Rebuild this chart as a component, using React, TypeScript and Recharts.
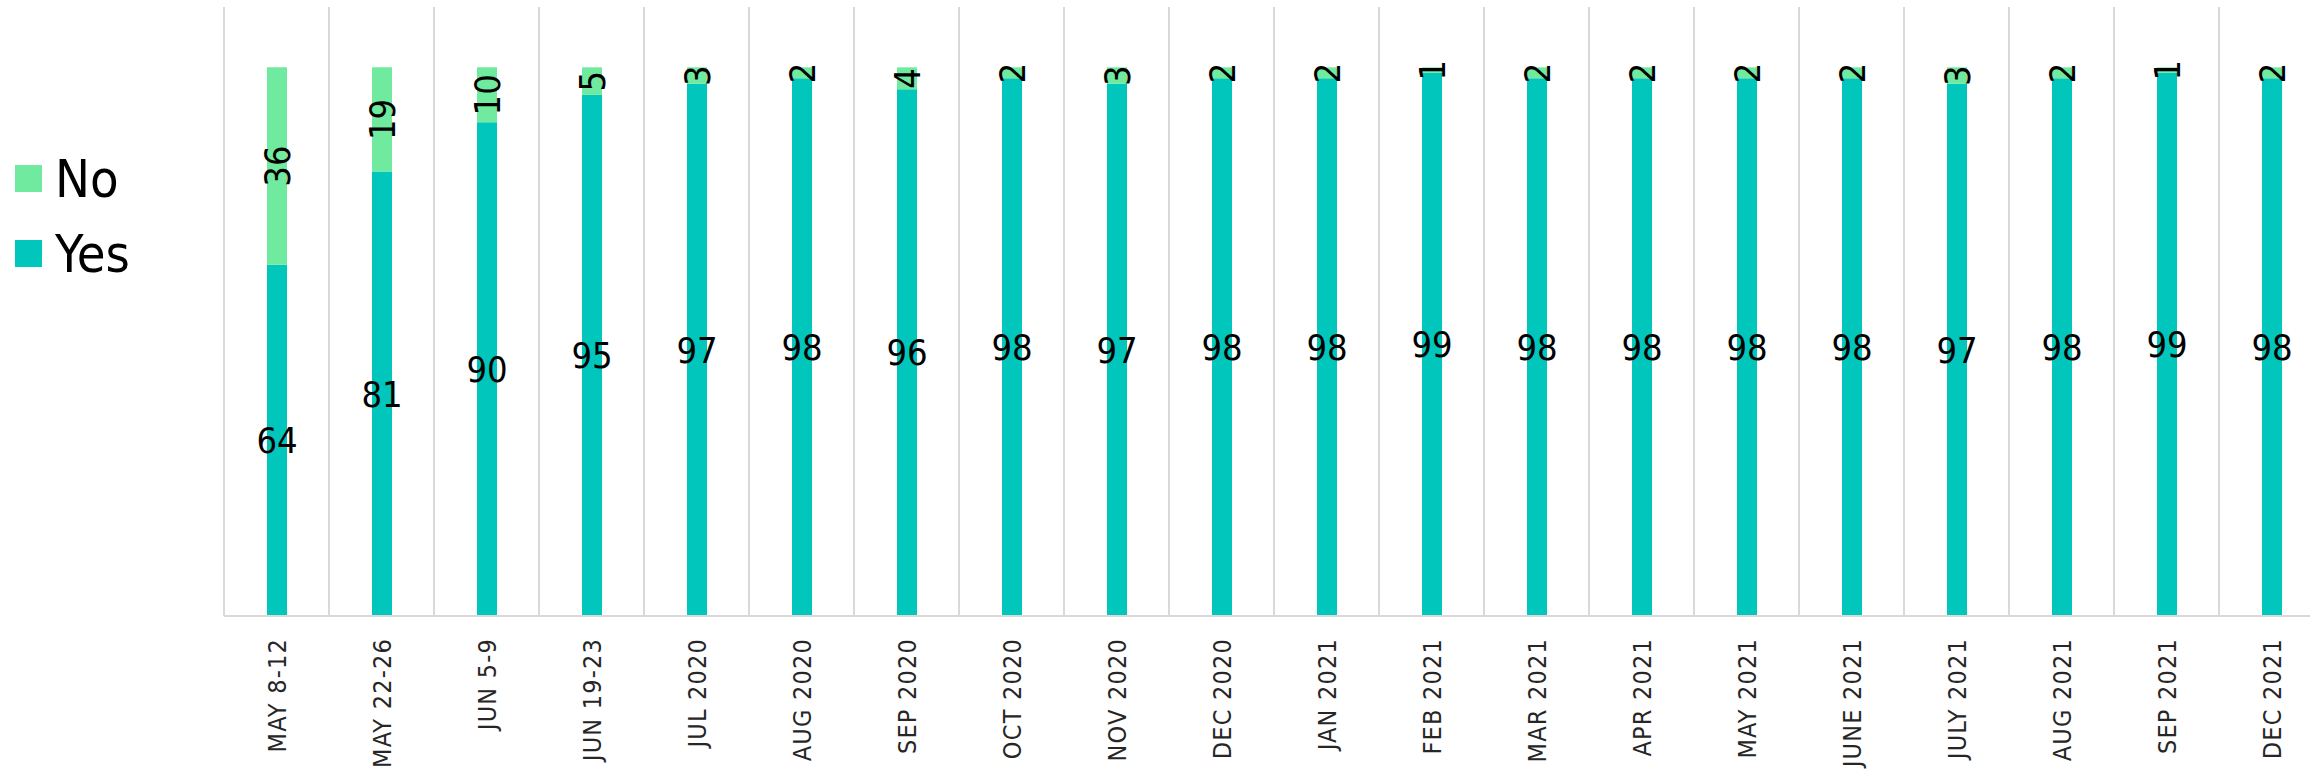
import React from "react";
import {
  BarChart,
  Bar,
  XAxis,
  YAxis,
  CartesianGrid,
  Legend,
  LabelList,
} from "recharts";

const categories = [
  "MAY 8-12",
  "MAY 22-26",
  "JUN 5-9",
  "JUN 19-23",
  "JUL 2020",
  "AUG 2020",
  "SEP 2020",
  "OCT 2020",
  "NOV 2020",
  "DEC 2020",
  "JAN 2021",
  "FEB 2021",
  "MAR 2021",
  "APR 2021",
  "MAY 2021",
  "JUNE 2021",
  "JULY 2021",
  "AUG 2021",
  "SEP 2021",
  "DEC 2021",
];

const yesValues = [64, 81, 90, 95, 97, 98, 96, 98, 97, 98, 98, 99, 98, 98, 98, 98, 97, 98, 99, 98];
const noValues = [36, 19, 10, 5, 3, 2, 4, 2, 3, 2, 2, 1, 2, 2, 2, 2, 3, 2, 1, 2];

const data = categories.map((label, i) => ({
  label,
  yes: yesValues[i],
  no: noValues[i],
}));

const YES_COLOR = "#00c6bb";
const NO_COLOR = "#6fea9e";
const GRID = "#d9d9d9";
const FONT = '"Liberation Sans Narrow", "DejaVu Sans Condensed", "Roboto", sans-serif';

const RotatedTick = (props: any) => {
  const { x, y, payload } = props;
  const ty = y + 14;
  return (
    <text
      x={x}
      y={ty}
      dy="0.36em"
      transform={`rotate(-90, ${x}, ${ty})`}
      textAnchor="end"
      fontFamily={FONT}
      fontSize={25}
      letterSpacing={1.2}
      fill="#262626"
    >
      {payload.value}
    </text>
  );
};

const LegendContent = (props: any) => {
  const items = [...(props.payload || [])].sort((a: any, b: any) =>
    String(a.value).localeCompare(String(b.value))
  );
  return (
    <div style={{ fontFamily: FONT, fontSize: 52, color: "#000", paddingLeft: 15 }}>
      {items.map((item: any) => (
        <div
          key={item.value}
          style={{ display: "flex", alignItems: "center", height: 75 }}
        >
          <span
            style={{
              display: "inline-block",
              width: 27,
              height: 27,
              background: item.color,
              marginRight: 13,
            }}
          />
          <span>{item.value}</span>
        </div>
      ))}
    </div>
  );
};

// vertical lines sit between categories, not on the ticks
const boundaryLines = ({ offset }: any) => {
  const step = offset.width / categories.length;
  return categories.map((_, i) => offset.left + i * step).concat(offset.left + offset.width);
};

export default function App() {
  return (
    <div
      style={{
        position: "absolute",
        left: 0,
        top: 0,
        width: 2310,
        height: 773,
        overflow: "hidden",
        background: "#fff",
      }}
    >
      <BarChart
        width={2340}
        height={773}
        data={data}
        margin={{ top: 7, right: 16, bottom: 7, left: 24 }}
        barSize={20}
      >
        <CartesianGrid
          horizontal={false}
          stroke={GRID}
          strokeWidth={2}
          verticalCoordinatesGenerator={boundaryLines}
        />
        <XAxis
          dataKey="label"
          interval={0}
          height={150}
          tickLine={false}
          axisLine={{ stroke: GRID, strokeWidth: 2 }}
          tick={<RotatedTick />}
        />
        <YAxis hide domain={[0, 111]} />
        <Legend
          layout="vertical"
          align="left"
          verticalAlign="middle"
          content={<LegendContent />}
          wrapperStyle={{ left: 0, top: 141, width: 200, height: 150 }}
        />
        <Bar dataKey="yes" name="Yes" stackId="a" fill={YES_COLOR} isAnimationActive={false}>
          <LabelList
            dataKey="yes"
            position="center"
            fill="#000"
            fontFamily={FONT}
            fontSize={36}
          />
        </Bar>
        <Bar dataKey="no" name="No" stackId="a" fill={NO_COLOR} isAnimationActive={false}>
          <LabelList
            dataKey="no"
            position="center"
            angle={-90}
            fill="#000"
            fontFamily={FONT}
            fontSize={36}
          />
        </Bar>
      </BarChart>
    </div>
  );
}
